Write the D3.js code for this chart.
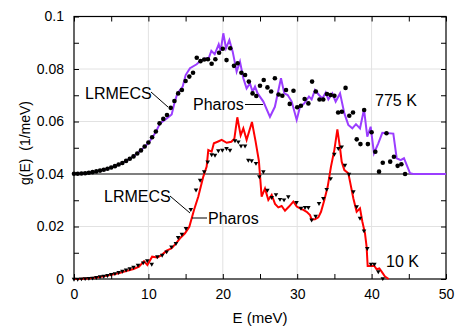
<!DOCTYPE html>
<html><head><meta charset="utf-8">
<script src="https://cdn.jsdelivr.net/npm/d3@7"></script>
<style>body{margin:0;background:#fff}svg{display:block;font-family:"Liberation Sans",Arial,Helvetica,sans-serif}</style>
</head><body><svg id="c" width="455" height="329"></svg>
<script>
// ---- data ----
const offset775 = 0.04;
const xTicks = [0, 10, 20, 30, 40, 50];
const yTicks = [0, 0.02, 0.04, 0.06, 0.08, 0.1];
const yTickLabels = ["0", "0.02", "0.04", "0.06", "0.08", "0.1"];

// 775 K, LRMECS (dots)
const E775L = [0,0.5,1,1.5,2,2.5,3,3.5,4,4.5,5,5.5,6,6.5,7,7.5,8,8.5,9,9.5,10,10.5,11,11.5,12,12.5,13,13.5,14,14.5,15,15.5,16,16.5,17,17.5,18,18.5,19,19.5,20,20.5,21,21.5,22,22.5,23,23.5,24,24.5,25,25.5,26,26.5,27,27.5,28,28.5,29,29.5,30,30.5,31,31.5,32,32.5,33,33.5,34,34.5,35,35.5,36,36.5,37,37.5,38,38.5,39,39.5,40,40.5,41,41.5,42,42.5,43,43.5,44,44.5];
const g775L = [0.0001,0.0001,0.0002,0.0003,0.0005,0.0007,0.0010,0.0013,0.0016,0.0020,0.0025,0.0030,0.0036,0.0042,0.0050,0.0058,0.0067,0.0078,0.0090,0.0105,0.0120,0.0140,0.0162,0.0193,0.0210,0.0225,0.0252,0.0278,0.0307,0.0320,0.0354,0.0371,0.0386,0.0443,0.0430,0.0436,0.0437,0.0420,0.0437,0.0462,0.0477,0.0434,0.0479,0.0412,0.0422,0.0386,0.0377,0.0352,0.0307,0.0297,0.0336,0.0358,0.0330,0.0314,0.0365,0.0303,0.0298,0.0320,0.0267,0.0317,0.0254,0.0260,0.0286,0.0269,0.0352,0.0314,0.0284,0.0284,0.0305,0.0301,0.0298,0.0234,0.0237,0.0328,0.0222,0.0234,0.0132,0.0114,0.0244,0.0114,0.0159,0.0085,0.0009,0.0043,0.0155,0.0047,0.0066,0.0031,0.0037,0.0000];

// 775 K, Pharos (purple line)
const E775P = [0,1,2,3,4,5,6,7,8,9,10,10.5,11,11.56,12.3,13.13,13.49,13.89,14.61,15.01,15.59,16.49,16.94,17.74,18.1,18.46,18.91,19.45,19.71,20.07,20.43,20.88,21.33,21.86,22.31,22.76,23.2,23.65,24.0,24.33,24.68,25.45,26.34,27.0,27.82,28.27,28.72,29.26,29.93,30.38,30.96,31.58,31.94,32.39,32.93,33.38,33.83,34.19,34.72,35.17,35.76,36.34,36.87,37.41,37.9,38.44,38.98,39.42,39.87,40.32,40.9,41.44,42.92,43.37,43.9,44.35,45.16,45.6,50];
const g775P = [0.0000,0.0002,0.0005,0.0010,0.0016,0.0025,0.0036,0.0050,0.0067,0.0090,0.0118,0.0138,0.0160,0.0193,0.0208,0.0227,0.0269,0.0307,0.0333,0.0377,0.0403,0.0418,0.0430,0.0441,0.0441,0.0469,0.0456,0.0494,0.0469,0.0536,0.0479,0.0510,0.0466,0.0390,0.0428,0.0365,0.0326,0.0345,0.0314,0.0333,0.0307,0.0276,0.0218,0.0256,0.0365,0.0307,0.0301,0.0276,0.0206,0.0256,0.0269,0.0295,0.0284,0.0320,0.0301,0.0288,0.0310,0.0284,0.0307,0.0276,0.0307,0.0231,0.0187,0.0174,0.0190,0.0174,0.0246,0.0142,0.0180,0.0079,0.0117,0.0157,0.0154,0.0060,0.0053,0.0060,0.0003,0.0000,0.0000];

// 10 K, LRMECS (triangles)
const E10L = [0,0.5,1,1.5,2,2.5,3,3.5,4,4.5,5,5.5,6,6.5,7,7.5,8,8.6,9.3,9.85,10.45,11.2,11.85,12.45,13.1,13.7,14.0,14.5,15.05,15.7,16.4,16.95,17.5,17.97,18.5,18.95,19.4,19.94,20.5,20.97,21.64,22.09,22.45,22.99,23.43,23.88,24.46,24.91,25.45,25.99,26.57,27.15,27.69,28.23,28.8,29.91,30.51,31.05,31.5,31.94,32.48,32.93,33.51,33.96,34.5,34.99,35.53,35.98,36.42,36.96,37.55,37.99,38.44,38.98,39.42,39.92,40.37,40.9,41.5];
const g10L = [0.0000,0.0000,0.0001,0.0002,0.0003,0.0004,0.0006,0.0009,0.0011,0.0014,0.0018,0.0021,0.0025,0.0030,0.0035,0.0040,0.0045,0.0053,0.0062,0.0070,0.0057,0.0085,0.0091,0.0104,0.0123,0.0136,0.0159,0.0171,0.0193,0.0265,0.0340,0.0377,0.0409,0.0446,0.0474,0.0472,0.0489,0.0491,0.0498,0.0491,0.0527,0.0523,0.0507,0.0507,0.0453,0.0451,0.0441,0.0390,0.0409,0.0339,0.0311,0.0322,0.0304,0.0302,0.0314,0.0292,0.0270,0.0273,0.0273,0.0225,0.0240,0.0288,0.0307,0.0342,0.0383,0.0476,0.0498,0.0504,0.0434,0.0400,0.0333,0.0276,0.0232,0.0184,0.0117,0.0057,0.0057,0.0028,0.0002];

// 10 K, Pharos (red line)
const E10P = [0,1,2,3,4,5,6,7,8,8.74,9.41,9.86,10.5,11.2,11.78,12.45,13.13,13.71,14.25,14.92,15.5,16.13,16.71,17.38,17.83,18.05,18.5,18.8,19.3,19.85,20.52,21.15,21.55,21.95,22.4,22.76,23.2,23.92,24.4,24.85,25.22,25.67,26.12,26.57,27.02,27.46,27.91,28.36,28.9,29.48,29.93,30.38,30.82,31.27,31.72,31.94,32.39,32.84,33.2,33.65,34.1,34.54,34.99,35.4,35.75,35.98,36.34,36.87,37.1,37.55,37.99,38.44,38.76,39.11,39.33,39.47,39.92,40.37,40.68,41.04,41.35,41.8,42.3];
const g10P = [0.0000,0.0001,0.0003,0.0006,0.0010,0.0016,0.0022,0.0030,0.0038,0.0047,0.0068,0.0053,0.0085,0.0082,0.0091,0.0108,0.0117,0.0136,0.0155,0.0174,0.0199,0.0263,0.0314,0.0390,0.0428,0.0491,0.0485,0.0517,0.0523,0.0530,0.0519,0.0523,0.0534,0.0616,0.0547,0.0574,0.0530,0.0598,0.0525,0.0450,0.0314,0.0345,0.0301,0.0320,0.0286,0.0273,0.0278,0.0260,0.0276,0.0295,0.0276,0.0269,0.0263,0.0256,0.0244,0.0227,0.0228,0.0235,0.0256,0.0301,0.0352,0.0428,0.0491,0.0570,0.0500,0.0447,0.0415,0.0403,0.0371,0.0307,0.0256,0.0269,0.0218,0.0174,0.0123,0.0050,0.0050,0.0050,0.0037,0.0040,0.0028,0.0009,0.0000];

// ---- drawing ----
const svg = d3.select("#c");
const L = 74, R = 446, T = 16.5, B = 279;
const x = d3.scaleLinear().domain([0, 50]).range([L, R]);
const y = d3.scaleLinear().domain([0, 0.1]).range([B, T]);

// grid
const g = svg.append("g");
g.selectAll(".gx").data([10, 20, 30, 40]).enter().append("line")
  .attr("x1", d => x(d)).attr("x2", d => x(d)).attr("y1", T).attr("y2", B)
  .attr("stroke", "#e2e2e2").attr("stroke-width", 1);
g.selectAll(".gy").data([0.02, 0.06, 0.08]).enter().append("line")
  .attr("x1", L).attr("x2", R).attr("y1", d => y(d)).attr("y2", d => y(d))
  .attr("stroke", "#e2e2e2").attr("stroke-width", 1);
// baseline for shifted curve
g.append("line").attr("x1", L).attr("x2", R).attr("y1", y(offset775)).attr("y2", y(offset775))
  .attr("stroke", "#000").attr("stroke-width", 1.2);

// axes
const axB = d3.axisBottom(x).tickValues(d3.range(0, 51, 5)).tickSize(-5).tickFormat(d => xTicks.includes(d) ? d : "").tickPadding(10);
const axT = d3.axisTop(x).tickValues(d3.range(0, 51, 5)).tickSize(-5).tickFormat("");
const axLft = d3.axisLeft(y).tickValues(d3.range(0, 0.1001, 0.01)).tickSize(-5)
  .tickFormat(d => { const i = yTicks.findIndex(t => Math.abs(t - d) < 1e-9); return i >= 0 ? yTickLabels[i] : ""; }).tickPadding(10);
const axRgt = d3.axisRight(y).tickValues(d3.range(0, 0.1001, 0.01)).tickSize(-5).tickFormat("");
function style(sel){
  sel.select(".domain").remove();
  sel.selectAll("line").attr("stroke", "#000").attr("stroke-width", 1);
  sel.selectAll("text").attr("font-size", 14).attr("fill", "#000").attr("font-family", "Liberation Sans, Arial, sans-serif");
}
svg.append("g").attr("transform", `translate(0,${B})`).call(axB).call(style);
svg.append("g").attr("transform", `translate(0,${T})`).call(axT).call(style);
svg.append("g").attr("transform", `translate(${L},0)`).call(axLft).call(style);
svg.append("g").attr("transform", `translate(${R},0)`).call(axRgt).call(style);
svg.append("rect").attr("x", L).attr("y", T).attr("width", R - L).attr("height", B - T)
  .attr("fill", "none").attr("stroke", "#000").attr("stroke-width", 1.2);

// lines
const line = d3.line().x(d => x(d[0])).y(d => y(d[1]));
svg.append("path").datum(E775P.map((e, i) => [e, g775P[i] + offset775]))
  .attr("d", line).attr("fill", "none").attr("stroke", "#9b3dff").attr("stroke-width", 2).attr("stroke-linejoin", "miter");
svg.append("path").datum(E10P.map((e, i) => [e, g10P[i]]))
  .attr("d", line).attr("fill", "none").attr("stroke", "#ff0000").attr("stroke-width", 2).attr("stroke-linejoin", "miter");

// markers
svg.append("g").selectAll("circle").data(E775L.map((e, i) => [e, g775L[i] + offset775])).enter()
  .append("circle").attr("cx", d => x(d[0])).attr("cy", d => y(d[1])).attr("r", 2.3).attr("fill", "#000");
const tri = d3.symbol().type(d3.symbolTriangle).size(9);
svg.append("g").selectAll("path").data(E10L.map((e, i) => [e, g10L[i]])).enter()
  .append("path").attr("d", tri).attr("fill", "#000")
  .attr("transform", d => `translate(${x(d[0])},${y(d[1])}) rotate(180)`);

// annotations
const ann = svg.append("g").attr("font-size", 16).attr("fill", "#000");
function lab(t, px, py, anchor){ ann.append("text").attr("x", px).attr("y", py).attr("text-anchor", anchor || "start").text(t); }
function ptr(x1, y1, x2, y2){ svg.append("line").attr("x1", x1).attr("y1", y1).attr("x2", x2).attr("y2", y2).attr("stroke", "#000").attr("stroke-width", 1); }
lab("LRMECS", 85, 99); ptr(151, 92, 168, 107);
lab("Pharos", 193, 110); ptr(245, 104.5, 263, 104.5);
lab("775 K", 375, 106);
lab("LRMECS", 104, 202); ptr(170, 196, 190, 213);
lab("Pharos", 208, 224); ptr(192, 218, 207, 218);
lab("10 K", 386, 267);

// axis titles
svg.append("text").attr("x", x(25)).attr("y", 323).attr("text-anchor", "middle").attr("font-size", 15).text("E (meV)");
svg.append("text").attr("transform", "translate(30,143) rotate(-90)").attr("text-anchor", "middle").attr("font-size", 14)
  .attr("xml:space", "preserve").style("white-space", "pre").text("g(E)  (1/meV)");
</script>
</body></html>
